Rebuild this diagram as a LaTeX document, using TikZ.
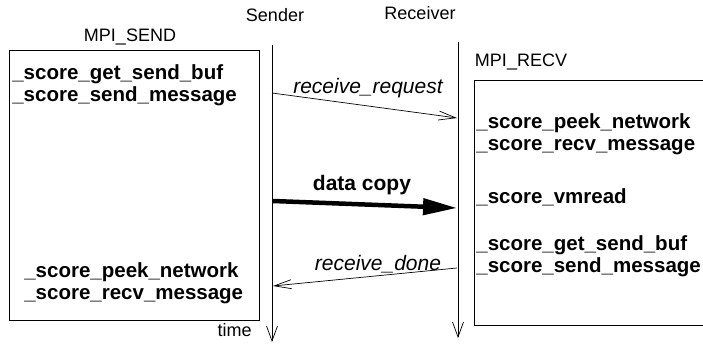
\documentclass[tikz,border=0pt]{standalone}
\usepackage{fontspec}
\setmainfont{Liberation Sans}
\usetikzlibrary{arrows.meta}
\begin{document}
\begin{tikzpicture}[x=1pt, y=-1pt, line width=0.7pt,
            every node/.style={inner sep=0pt},
            lbl/.style={font=\fontsize{18}{20}\selectfont},
            fn/.style={font=\fontsize{20.5}{22.5}\selectfont\bfseries, align=left, anchor=west},
            msg/.style={font=\fontsize{21}{22}\selectfont\itshape},
            timeline/.style={-{Straight Barb[length=15pt,width=11pt]}},
            msgarrow/.style={-{Straight Barb[length=17pt,width=9pt]}},
            copyarrow/.style={line width=4.5pt, -{Triangle[length=34pt,width=16pt]}}]
            \useasboundingbox (0,0) rectangle (703,344);
            % labels
            \node[lbl] (sender) at (275,15) {Sender};
            \node[lbl] (receiver) at (420,13) {Receiver};
            \node[lbl] (sendname) at (130,37) {MPI\_SEND};
            \node[lbl] (recvname) at (521,62) {MPI\_RECV};
            \node[lbl, anchor=east] (time) at (252,330) {time};
            % boxes
            \draw (9,50) rectangle (259,320);
            \draw (703,80) -- (474,80) -- (474,325) -- (703,325);
            % time lines
            \coordinate (stop) at (272,45);
            \coordinate (sbot) at (272,342);
            \coordinate (rtop) at (458,42);
            \coordinate (rbot) at (458,338);
            \draw[timeline] (stop) -- (sbot);
            \draw[timeline] (rtop) -- (rbot);
            % routines
            \node[fn] (sendfirst) at (12,85) {\_score\_get\_send\_buf\\\_score\_send\_message};
            \node[fn] (sendlast) at (24,283) {\_score\_peek\_network\\\_score\_recv\_message};
            \node[fn] (recvfirst) at (476,134) {\_score\_peek\_network\\\_score\_recv\_message};
            \node[fn] (recvcopy) at (476,197) {\_score\_vmread};
            \node[fn] (recvlast) at (476,256) {\_score\_get\_send\_buf\\\_score\_send\_message};
            % messages
            \coordinate (req0) at (272,93);
            \coordinate (req1) at (457,118);
            \coordinate (copy0) at (273,201);
            \coordinate (copy1) at (457,208);
            \coordinate (done0) at (457,268);
            \coordinate (done1) at (273,286);
            \draw[msgarrow] (req0) -- (req1);
            \draw[copyarrow] (copy0) -- (copy1);
            \draw[msgarrow] (done0) -- (done1);
            \node[msg] (reqlbl) at (368,88) {receive\_request};
            \node[font=\fontsize{21}{22}\selectfont\bfseries] (copylbl) at (362,185) {data copy};
            \node[msg] (donelbl) at (378,264) {receive\_done};
\end{tikzpicture}
\end{document}
